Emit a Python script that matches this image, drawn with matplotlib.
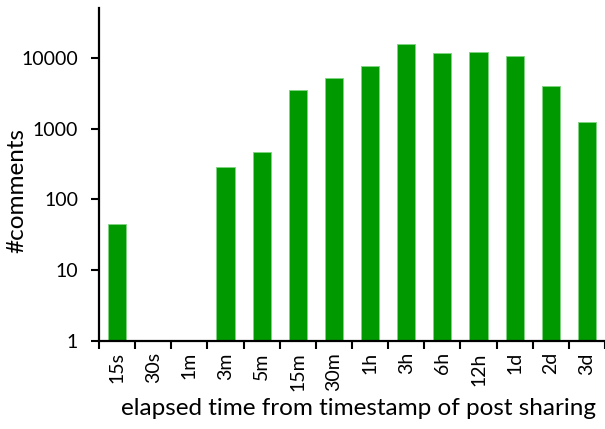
import matplotlib.pyplot as plt
import numpy as np
from matplotlib.ticker import FixedLocator, NullFormatter

# データ
labels = ["15s", "30s", "1m", "3m", "5m", "15m", "30m", "1h", "3h", "6h", "12h", "1d", "2d", "3d"]
comments = [45, 0, 0, 285, 465, 3450, 5100, 7700, 15400, 11500, 12100, 10450, 4000, 1230]
yticks = [1, 10, 100, 1000, 10000]

plt.rcParams['font.family'] = ['Lato', 'DejaVu Sans']

fig = plt.figure(figsize=(6.05, 4.29), dpi=100)
ax = fig.add_axes([0.1636, 0.205, 0.8364, 0.776])

x = np.arange(len(labels))
vals = [v if v > 0 else np.nan for v in comments]
ax.bar(x, vals, width=0.5, bottom=0, color="#009900", edgecolor="#7fd47f", linewidth=0.6)

ax.set_yscale("log")
ax.set_ylim(1, 50000)
ax.set_xlim(-0.5, len(labels) - 0.5)

ax.set_yticks(yticks)
ax.set_yticklabels([str(t) for t in yticks])
ax.yaxis.set_minor_locator(FixedLocator([]))
ax.tick_params(axis="y", which="major", direction="out", length=6, width=1.5, labelsize=14, pad=9)

# 目盛りはカテゴリ境界
ax.set_xticks(x)
ax.set_xticklabels(labels, rotation=90)
ax.xaxis.set_minor_locator(FixedLocator(np.arange(-0.5, len(labels), 1.0)))
ax.xaxis.set_minor_formatter(NullFormatter())
ax.tick_params(axis="x", which="major", length=0, labelsize=14, pad=8)
ax.tick_params(axis="x", which="minor", direction="out", length=6, width=1.5)

for s in ["top", "right"]:
    ax.spines[s].set_visible(False)
for s in ["left", "bottom"]:
    ax.spines[s].set_linewidth(1.6)

ax.set_ylabel("#comments", fontsize=17.5)
ax.yaxis.set_label_coords(-0.142, 0.452)
ax.set_xlabel("elapsed time from timestamp of post sharing", fontsize=17.5, labelpad=5, x=0.512)

plt.savefig("out.png", dpi=100)
